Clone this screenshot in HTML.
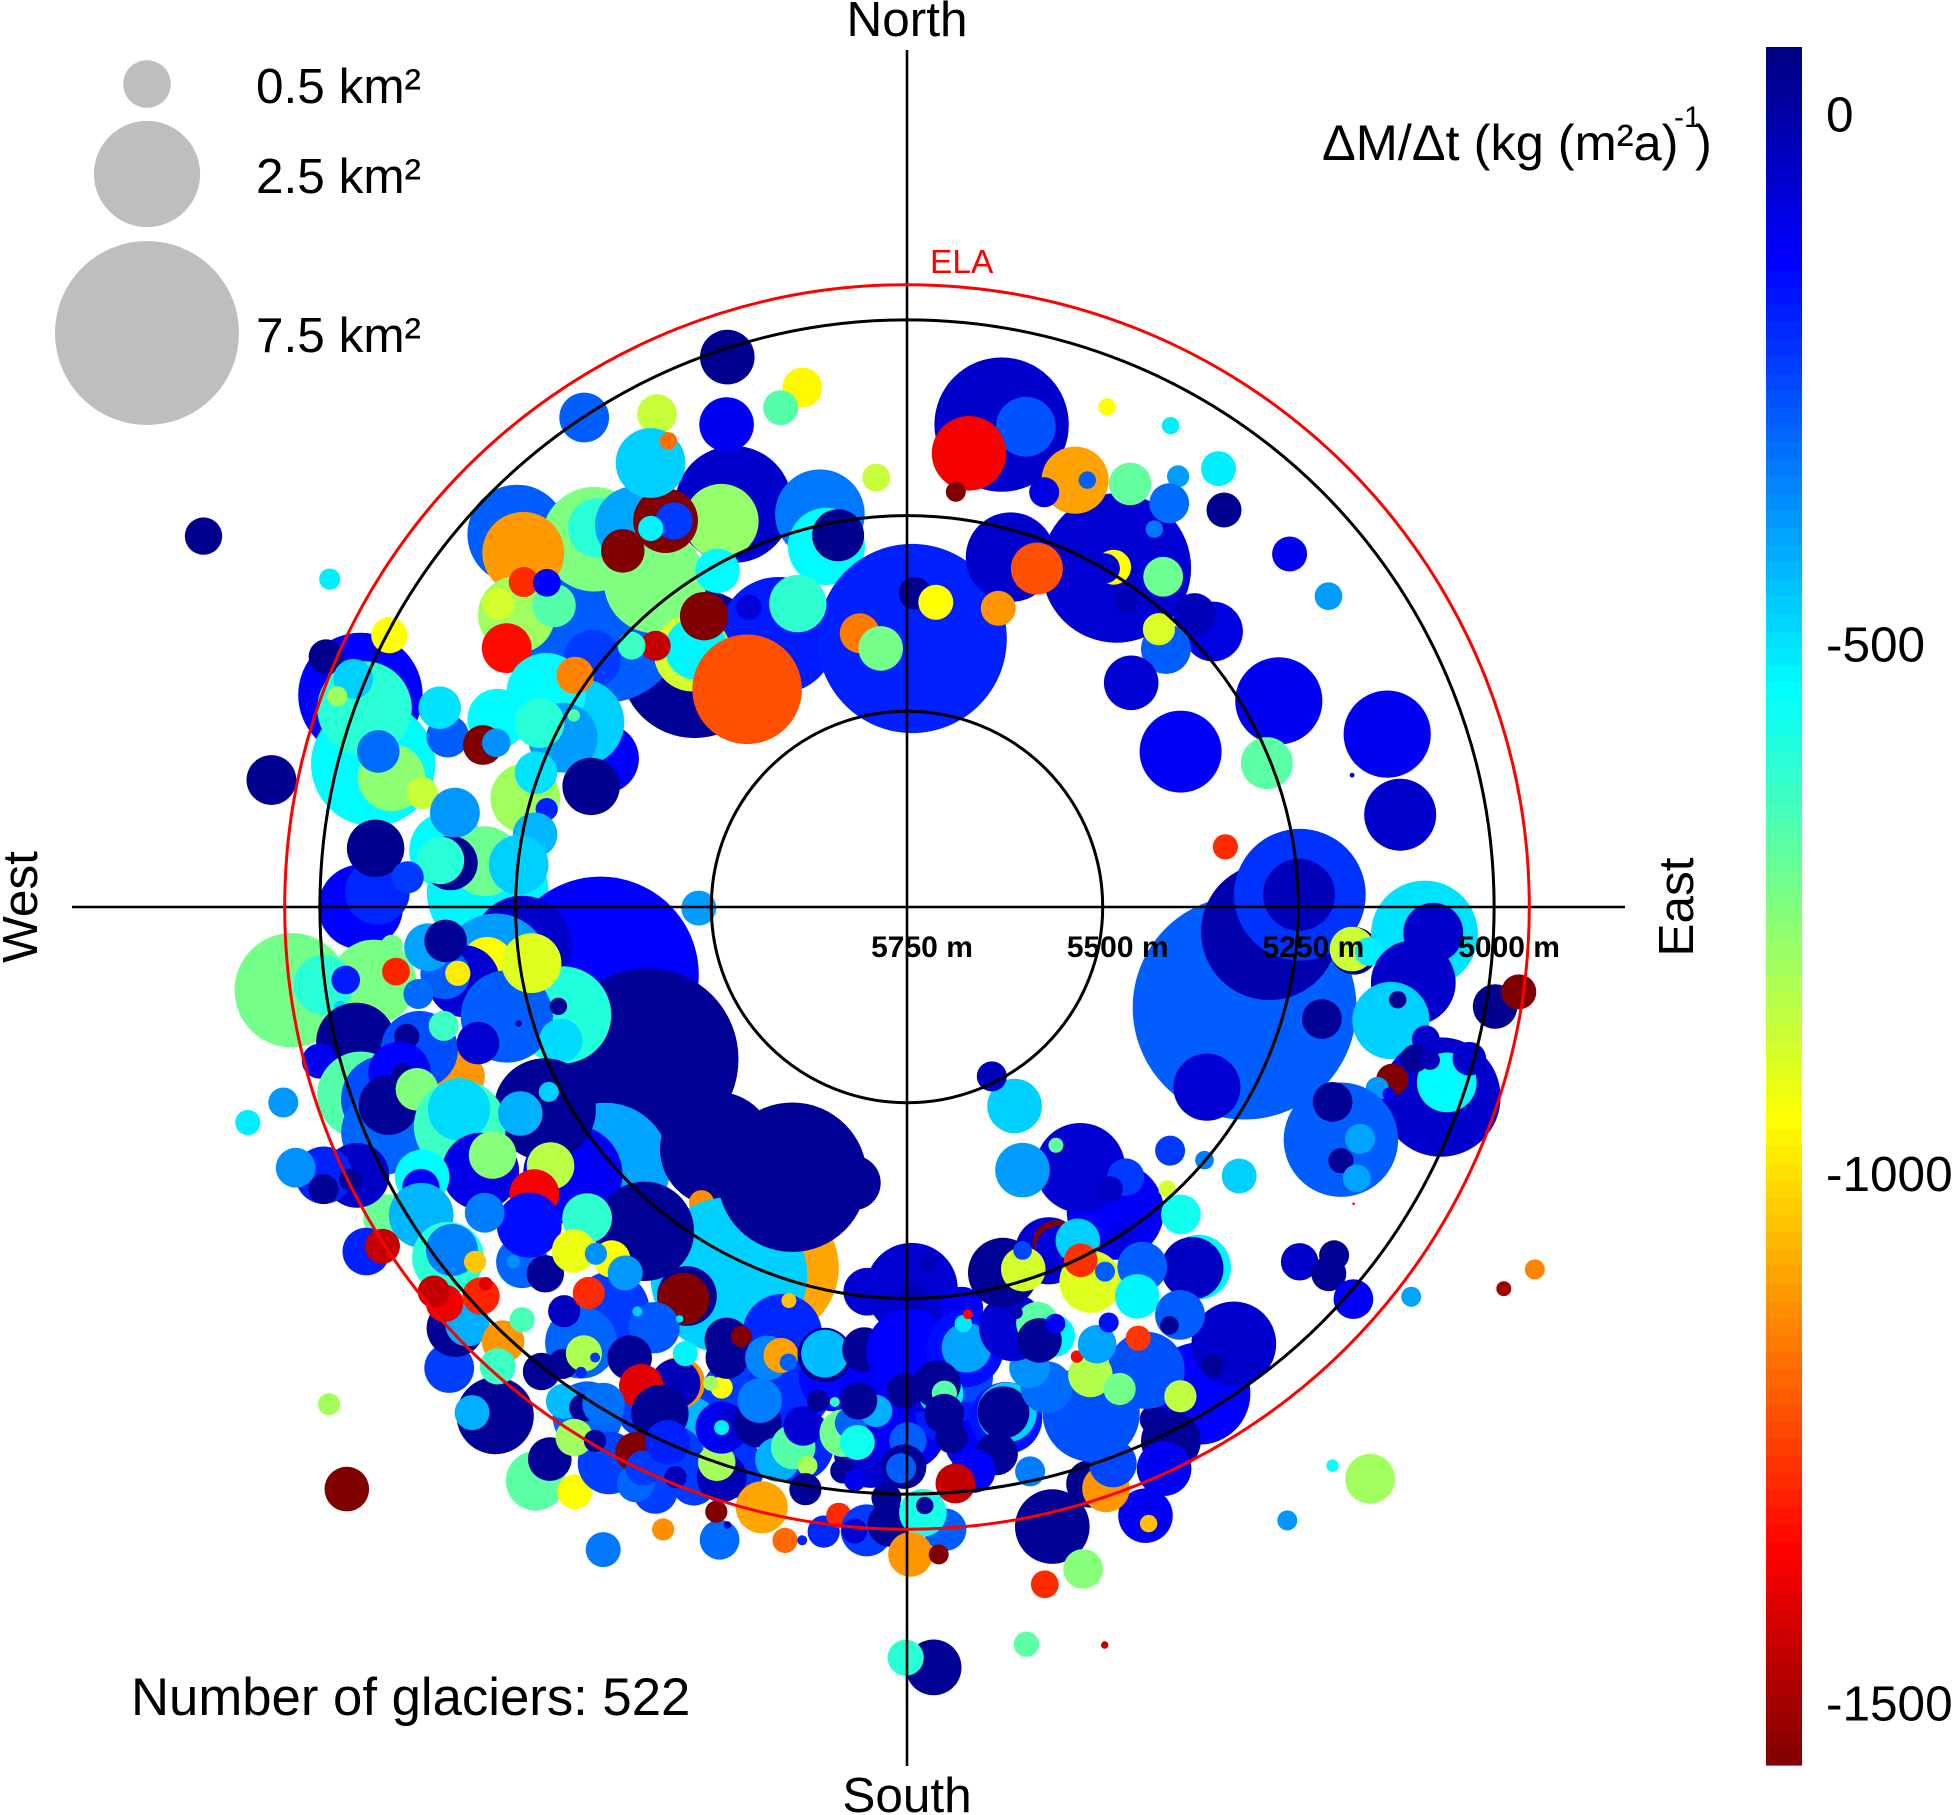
<!DOCTYPE html>
<html lang="en">
<head>
<meta charset="utf-8">
<title>Glacier mass balance by aspect and elevation</title>
<style>
html,body{margin:0;padding:0;background:#fff;width:1952px;height:1815px;overflow:hidden}
svg{display:block;position:absolute;left:0;top:0}
text{font-family:"Liberation Sans",sans-serif;fill:#000}
</style>
</head>
<body>
<svg id="chart" xmlns="http://www.w3.org/2000/svg" width="1952" height="1815" viewBox="0 0 1952 1815">
  <g id="glaciers"></g>
  <g id="grid">
    <line x1="72" y1="907" x2="1625" y2="907" stroke="#000" stroke-width="2.6"/>
    <line x1="907" y1="50" x2="907" y2="1766" stroke="#000" stroke-width="2.6"/>
  </g>
  <g id="ringLabels"></g>
  <text x="930" y="273" font-size="33.5" style="fill:#ff0000">ELA</text>
  <text x="907" y="36" font-size="49.5" text-anchor="middle">North</text>
  <text x="907" y="1812" font-size="49.5" text-anchor="middle">South</text>
  <text transform="translate(37 907) rotate(-90)" font-size="49.5" text-anchor="middle">West</text>
  <text transform="translate(1693 907) rotate(-90)" font-size="49.5" text-anchor="middle">East</text>
  <g id="sizeLegend"></g>
  <text x="131" y="1715" font-size="52.7">Number of glaciers: 522</text>
  <text x="1322" y="160" font-size="50.5">ΔM/Δt (kg (m²a)</text>
  <text x="1674" y="127" font-size="30">-1</text>
  <text x="1695" y="160" font-size="50.5">)</text>
  <g id="colorbar"></g>
</svg>
<script>
// Aspect of each glacier, degrees clockwise from north
const glacierAspect = [
318.9,334.6,313.3,336.7,313.7,319.6,312.7,320.8,324.4,322.2,
334.3,328,328.9,325.9,321.4,306.8,306.6,310.5,310.3,312,
302.9,308.3,319.8,320.8,330.6,325.1,316.1,313.5,323.7,332.2,
294.7,296.1,299.5,300.7,296.2,304.9,296.6,299.9,290.9,285.9,
289.9,285.2,341.9,326.6,333.1,339.5,348.6,345.8,330,332.9,
347.5,347.4,349.5,355.9,1.1,340.2,350.2,354.2,1.4,5.4,
291.2,293.3,285,290.1,292.4,290.3,284.1,286.4,297.7,281.3,
283.2,290.4,293.1,290.9,291.8,297.8,299.6,270,271.6,272,
277,276.2,275.5,275.7,281.8,281,276.2,276.3,273.4,269.7,
257.5,239.6,229.2,231.3,218.1,214.8,201.1,205.8,219,203,
191,185.9,264.3,262.3,262,262.4,262.6,260,265.7,262.8,
261.7,262.4,260.5,261.7,259.9,261.6,265.2,265.8,252.6,254.7,261.5,
248.9,254.1,253.3,240.8,249.2,256.2,253.7,252.4,255.6,255.5,
255.3,251,249.8,246.7,251.9,251.7,249.1,249.6,243.9,245.7,
241.9,242.7,238.2,239.1,234,232.4,240.9,240,242.3,239.1,
244,245.3,246.9,244.2,243.9,252.6,251.9,237.6,232.6,233,
227.3,229.9,234.1,225.8,228,230.6,237.5,237.1,219,220.7,
224.8,227,226.5,229.4,230.9,227.6,228.2,222.9,221.7,223,
198,193.7,188.9,191.6,183.8,179.9,184.2,202.7,203.1,197.1,174.9,173.3,207.5,178.4,
229.3,223.9,216.3,216.8,209.5,209.7,211,213.7,208.9,220.3,
219.5,224.6,224.1,220,221.9,217.6,218.2,217,211.6,215.9,
214.7,215,205.6,205.9,209,206.4,201.1,202.4,212.1,214.8,
212.9,211.4,206,212.9,212.9,209.6,205.3,201.4,196.5,196.2,
197.5,208.2,212.1,210.3,203.3,205.2,206.5,205.2,200.3,202.1,
204.1,198,198.9,193.6,190.9,189.4,187.6,186.4,183.7,184.8,
181.6,182,196.3,202.6,201.8,201.1,197.2,195.7,194.6,190.4,
190.4,185.5,199.6,198.6,199.6,196.1,196.6,193.2,191.9,190.1,
191.3,190.2,186.9,186.2,185.3,183.5,185.6,188.3,186.5,185.2,
189.9,196.7,179.3,176.6,179.1,172.2,179.8,172.6,172.5,172.3,
172.3,171.5,180.3,176,176.4,175.6,169,168.8,169.2,175.8,
175.2,170.7,173.3,167.7,175.2,179.9,180.3,180.6,176.5,178.5,
178.3,179.7,177.2,178,180.1,170.8,165,168.5,166.8,165.1,
158.6,158.6,149,153.7,154.2,155.4,162.4,161.1,159.7,143.2,
146.3,160,152.7,150.8,163.8,165.1,158.6,156.2,159.3,156.5,
154.1,151.8,165.9,162.6,161.1,163,160.4,164.9,145.6,146.9,
146.4,141,144.2,156.3,148,151.6,153.4,157.6,156.1,156.1,
153.9,152.9,153.8,151.5,165.3,162.2,161.4,141,141.7,146.8,
149.4,146.2,147.9,138.3,137.3,106.6,93.9,88.2,88.2,105.1,
121,95.6,95.4,93,95.5,98.5,92.8,103.2,100.7,109.6,
108,104.3,106.6,106.3,105.1,109.6,111.1,111.2,118.2,114.6,
117.1,120.3,121.1,99.6,97.9,132.8,130.4,129,120,122.6,
127.7,132.1,129.2,131,131.3,148.2,142.7,141,123.6,11.1,
13.9,7.8,6.7,31.7,21.5,22.9,18.3,21.8,28.7,27.8,
35.4,32.2,33,38.6,16.5,21,17,31.3,30.3,33.2,
35.7,37.8,48,44.5,45.1,42.2,45,60.4,47.3,53.6,
61,70.2,79.4,68.2,73.5,79.3
];
// Mean elevation of each glacier, metres
const glacierElevation = [
5337,5366,5217,5190,5061,5133,5083,5125,5150,5225,
5203,5168,5174,5166,5168,5127,5100,5157,5108,5131,
5141,5238,5325,5324,5257,5297,5287,5265,5405,5317,
5174,5319,5271,5214,5260,5233,5225,5259,5318,5243,
5246,5273,5011,5001,5044,5092,5073,5092,5095,5081,
5236,5278,5267,5200,5407,5338,5395,5418,5349,5359,
5001,4942,5044,5012,4985,4974,5071,5046,5003,4922,
5114,5124,5101,5170,5185,4734,4902,5052,5073,5214,
5159,5208,5164,5151,5160,5266,5251,5067,5111,5484,
5349,5366,5241,5203,5357,5290,5256,5227,5217,5375,
5391,5256,5256,4957,5062,4998,5027,5015,5090,5092,
5219,5209,5176,5154,5116,5170,5136,5159,5289,5220,5265,
5276,5287,5232,5220,5139,5025,5101,5175,5139,5090,
4974,5012,5039,5022,5068,5071,5041,5082,5114,5122,
5190,5235,5109,5133,5187,5149,5041,5033,4971,4976,
4968,4930,4901,4922,4958,4915,4864,5015,5012,5022,
5081,5119,5084,5180,5073,5036,4931,4952,4914,4898,
4920,4961,4976,4972,4971,5013,5028,4992,4964,5029,
5087,5117,5143,5049,5054,5079,5125,5034,4985,5000,5108,5058,5030,5143,
4776,4718,5111,5055,5179,5174,5123,5129,5149,5073,
5111,5092,5138,5163,5155,5160,4995,5019,5074,5046,
5050,5024,5076,5073,5050,5113,5092,5092,4982,4981,
4988,5006,5030,4877,4910,4891,4842,4896,4907,4928,
4940,4944,4950,4960,4937,4936,4972,4958,4965,4964,
5001,4984,5000,4961,4926,4930,4945,4968,4952,4950,
4961,4995,5182,5151,5130,5162,5147,5155,5149,5168,
5170,5182,5044,5054,5044,5063,5092,5025,5045,5025,
5074,5109,5073,5087,5063,5105,5116,5111,5025,5015,
4995,5225,5262,5294,5254,5233,5182,5144,5181,5182,
5213,5224,5132,5127,5139,5127,5085,5092,5093,5101,
5070,5042,5025,5012,5011,5068,5035,5033,4953,4976,
4985,4923,4922,4778,4791,4796,4774,4867,4937,4875,
4915,4904,5025,4989,5023,4961,4977,4965,4992,5053,
5046,5062,5084,5034,5111,5141,5108,5077,5136,5141,
5160,5125,5196,5193,5171,5171,5185,5213,5279,5244,
5350,5306,5306,5383,5391,5461,5508,5275,5279,5271,
5217,5271,5247,5220,5267,5264,5287,5158,5162,5201,
5172,5123,5119,5224,5260,5300,5286,5248,5249,5201,
5303,5176,5179,5088,5157,5096,5077,5115,5112,5026,
5025,5066,5073,5054,5006,5092,5106,5090,5121,5152,
5100,5108,5079,4988,4961,5292,5251,5204,4824,4845,
4936,5074,5046,5036,4991,4828,4853,4810,5065,5122,
5118,5165,5216,5241,5164,5158,5192,5062,5049,5139,
5063,5100,5135,5101,5284,5287,5351,5242,5249,5173,
5270,5216,5224,5226,5283,5271,5345,5348,5085,5081,
5207,5098,5109,5255,5157,5336
];
// Glacier area, km2
const glacierArea = [
4.94,3.03,5.98,3.03,2.19,2.42,1.49,.79,1.32,2.31,
1.23,.93,.31,.14,.42,1.32,.23,.42,.2,.17,
.55,.73,1.32,.86,.44,.52,.2,.17,2.66,.14,
.79,1.08,1.68,1.4,1.08,.31,.55,.034,.73,1.08,
.4,.11,.66,.55,.35,.66,.35,.27,1.08,.067,
1.78,1.32,.6,.17,7.92,.73,.35,.44,.23,.27,
3.43,.27,3.43,1.98,.35,.088,1,.4,.29,.55,
.23,.4,.4,.35,.18,.31,.1,1.59,.93,3.29,
1.32,1.08,.66,.5,.55,.44,.79,.73,.23,.27,
8.56,7.31,3.71,2.19,2.9,.14,4.46,5.44,2.19,4.94,
.66,.5,2.19,2.9,1.59,.79,.18,.034,.11,.17,
2.54,.6,1.15,.55,.2,.14,.5,.4,2.09,1.88,.79,
.42,.067,.009,2.31,.55,1.4,1.32,.4,.2,.14,
.27,1.68,1.68,1.59,.86,.11,.79,.4,1.88,.86,
.44,.088,1.32,.5,.5,.55,.66,.31,.31,.5,
.93,.73,.35,.2,.11,.2,.14,.93,1.15,.6,
.6,.93,.35,.55,.04,.11,.5,.27,1.32,.27,
.55,.73,.44,.31,.23,.31,.04,.4,.29,.14,
1.98,1.59,1.08,1.23,1.23,1.23,.93,.66,.93,.79,1.23,.55,.86,.79,
.11,.44,1.32,1.15,.79,.6,.58,.022,.012,.23,
.23,.31,.42,.31,.11,.27,.31,.2,.44,.29,
.022,.028,.6,.55,.44,.14,.11,.05,1.08,.27,
.17,.4,.73,.79,.42,.27,.27,.11,.35,.012,
.11,.86,.31,.11,.44,.31,.35,.27,.44,.11,
.44,.55,.31,.6,.14,.022,.23,.14,.6,.14,
.44,.2,1.4,.44,.4,.1,.44,.27,.067,.66,
.5,.44,.6,.27,.05,.5,.44,.44,.44,.088,
.35,.11,.5,.23,.27,.23,.31,.022,.14,.11,
.23,.05,1.88,.088,.17,.4,1.59,.55,1.32,.55,
.067,.022,.27,.44,.5,.14,1.15,.79,.6,.35,
.23,.4,.44,.2,.35,.31,.44,.2,.4,.5,
.067,.44,.088,.69,.29,.14,.012,.17,1.23,.35,
.66,.067,2.31,.79,.2,.66,.5,.5,.5,1.59,
.11,2.09,1.32,.23,.6,.37,.44,.23,.034,.33,
.088,.14,1,.4,.4,.44,.088,.034,2.09,.17,
1.78,.31,.14,.66,.05,.66,.2,1,.5,.5,
.86,.44,.25,.088,1.08,.44,.077,.93,.86,.55,
.44,.55,.077,.35,.067,11.1,4.15,3.85,1.15,.35,
1,.5,.44,2.54,.18,1.59,.79,1.32,.067,3.16,
.79,.17,.17,.088,.25,.23,.12,.034,2.9,.35,
.2,.14,.17,.44,.27,.2,.077,.27,.088,.05,
.088,.31,.2,.27,.35,.088,.034,.55,.0014,4,
.79,1.23,.088,4.94,1,.067,.2,.067,.067,.4,
.27,.11,.35,.27,1.78,.6,.27,.27,.2,.067,
.14,.35,.79,.4,.55,.23,.66,1.49,.27,.17,
1.68,1.68,1.15,.6,.005,.14
];
// Mass balance of each glacier, kg per m2 per year
const glacierBalance = [
30,-180,-290,-60,-290,-748,-1110,-610,-400,-748,
-780,-1559,-230,-530,-1559,-800,-880,-680,-1290,-140,
-1340,-230,-880,-530,-540,-1559,-1450,-640,-1230,-80,
-540,-140,-470,-540,-390,-1150,-610,-680,40,-800,
-500,-190,40,-290,-860,-120,-960,-680,-470,-1180,
-330,-540,40,-860,-190,-620,-1160,-730,40,-950,
-140,40,-540,-610,-470,-800,-770,-310,-950,40,
-860,-290,-500,-1559,-370,40,-520,-140,-200,-530,
-540,-720,40,-610,-380,-430,-470,40,-230,-390,
-140,30,-400,-130,30,-1130,-1090,-470,30,30,
30,-70,-60,-730,-740,-610,-180,-470,-730,-1300,
-390,-950,-70,-290,-310,-980,-400,30,-600,-290,-900,
-490,30,30,30,-1120,30,-260,-70,-640,30,
-120,-680,-260,-300,-140,30,30,-750,-640,-490,
-420,-470,-100,-760,-840,-1370,-540,-140,-930,-710,
-50,-190,-370,30,30,-380,-520,-430,-610,-340,
-300,-160,-340,-620,-370,-1040,-190,-1450,30,-420,
-240,30,-420,-1380,-1450,-1300,-1400,-1120,-640,-660,
-230,-210,-150,-200,-70,-130,-130,-430,-230,-220,-180,-130,-240,-100,
-810,-1559,-230,-300,30,-1559,-280,-470,-520,-40,
-1290,30,-920,-950,-370,-380,30,30,30,-820,
-230,-200,-1130,-30,-1400,-530,-950,-800,-300,-440,
30,-320,30,-690,30,-950,-330,-1130,-310,-30,
-1559,-240,-800,30,-240,-300,-1559,-230,-230,-30,
-190,-20,-810,-1090,-1190,-190,-200,-1290,-230,-70,
30,30,-200,30,30,-1559,-350,-1100,-290,30,
-440,30,-120,-70,-520,30,-340,-420,-680,-810,
-70,30,-730,-300,-570,-420,30,-620,30,-110,
30,-1050,-70,-30,-30,-130,-140,-250,-160,-400,
-510,-1350,30,-530,30,-680,-170,-470,30,30,
30,30,-140,-340,-1450,-290,30,-290,-290,-580,
30,-1120,-1559,30,-610,-690,-1450,-1290,30,-760,
-130,-1050,-140,30,30,-120,40,-1120,-250,-60,
30,-270,-270,-850,-310,-370,-830,-730,-1350,-400,
-160,-1270,-70,-690,-530,30,-130,-20,-130,-90,
-70,-230,-40,-390,-700,-470,-30,-70,-1559,-80,
-900,-470,-1280,-290,30,-880,-250,-530,-40,-290,
-530,-290,30,-570,-880,-290,-10,-220,-30,30,
-70,40,-870,-500,-520,-60,-60,-470,40,-60,
-540,-60,30,-30,-60,-1559,-380,-120,-290,30,
-400,30,-400,40,-1559,-230,-340,-470,-1150,-1500,
-400,-60,30,30,-130,-380,-560,-800,-1350,-60,
-270,-1370,-1559,-70,-1100,-290,-90,-950,-520,-700,
-520,-390,-310,40,-60,-1230,-1120,-950,-70,-330,
-30,-720,-90,-30,-290,-890,-70,-130,-120,-390,
-120,-120,-60,-690,-60,-1290
];
const ringElevations = [5500, 5250, 5000];
const ringLabelElevations = [5750, 5500, 5250, 5000];
const equilibriumLineAltitude = 4955;
const legendAreas = [0.5, 2.5, 7.5];
const legendLabels = ['0.5 km²', '2.5 km²', '7.5 km²'];
const colorbarTicks = [0, -500, -1000, -1500];
const colorbarDomain = [63, -1559];

const NS = 'http://www.w3.org/2000/svg';
const CENTER = 907, PX_PER_M = 195.7 / 250, TOP_ELEV = 5750, AREA_SCALE = 33.6;
const BAR_X = 1766, BAR_W = 36, BAR_Y = 47, BAR_H = 1718;

function radialScale(elev) { return (TOP_ELEV - elev) * PX_PER_M; }
function bubbleRadius(area) { return AREA_SCALE * Math.sqrt(area); }
function polarX(aspect, elev) { return CENTER + radialScale(elev) * Math.sin(aspect * Math.PI / 180); }
function polarY(aspect, elev) { return CENTER - radialScale(elev) * Math.cos(aspect * Math.PI / 180); }
function colorbarY(v) { return BAR_Y + (colorbarDomain[0] - v) / (colorbarDomain[0] - colorbarDomain[1]) * BAR_H; }
function clamp01(x) { return Math.max(0, Math.min(1, x)); }
function jet(v) {
  const t = clamp01((colorbarDomain[0] - v) / (colorbarDomain[0] - colorbarDomain[1]));
  const r = clamp01(Math.min(4 * t - 1.5, -4 * t + 4.5));
  const g = clamp01(Math.min(4 * t - 0.5, -4 * t + 3.5));
  const b = clamp01(Math.min(4 * t + 0.5, -4 * t + 2.5));
  return 'rgb(' + Math.round(r * 255) + ',' + Math.round(g * 255) + ',' + Math.round(b * 255) + ')';
}
function svgEl(tag) { return document.createElementNS(NS, tag); }

const glacierLayer = document.getElementById('glaciers');
glacierAspect.forEach(function (aspect, i) {
  const c = svgEl('circle');
  
  
  c.setAttribute('cx', polarX(aspect, glacierElevation[i]).toFixed(1));
  c.setAttribute('cy', polarY(aspect, glacierElevation[i]).toFixed(1));
  c.setAttribute('r', bubbleRadius(glacierArea[i]).toFixed(1));
  c.setAttribute('fill', jet(glacierBalance[i]));
  glacierLayer.appendChild(c);
});

const gridLayer = document.getElementById('grid');
ringElevations.forEach(function (elev) {
  const c = svgEl('circle');
  
  
  c.setAttribute('cx', CENTER);
  c.setAttribute('cy', CENTER);
  c.setAttribute('r', radialScale(elev).toFixed(1));
  c.setAttribute('fill', 'none');
  c.setAttribute('stroke', '#000');
  c.setAttribute('stroke-width', '3');
  gridLayer.appendChild(c);
});
const elaRing = svgEl('circle');


elaRing.setAttribute('cx', CENTER);
elaRing.setAttribute('cy', CENTER);
elaRing.setAttribute('r', radialScale(equilibriumLineAltitude).toFixed(1));
elaRing.setAttribute('fill', 'none');
elaRing.setAttribute('stroke', '#ff0000');
elaRing.setAttribute('stroke-width', '3');
gridLayer.appendChild(elaRing);

const ringLabelLayer = document.getElementById('ringLabels');
ringLabelElevations.forEach(function (elev) {
  const t = svgEl('text');
  
  
  t.setAttribute('x', (CENTER + radialScale(elev) + 15).toFixed(1));
  t.setAttribute('y', '957');
  t.setAttribute('font-size', '30');
  t.setAttribute('font-weight', 'bold');
  t.setAttribute('text-anchor', 'middle');
  t.textContent = elev + ' m';
  ringLabelLayer.appendChild(t);
});

const legendLayer = document.getElementById('sizeLegend');
const legendCenters = [84, 174, 333];
const legendBaselines = [103, 193, 352];
legendAreas.forEach(function (area, i) {
  const c = svgEl('circle');
  
  
  c.setAttribute('cx', '147');
  c.setAttribute('cy', legendCenters[i]);
  c.setAttribute('r', bubbleRadius(area).toFixed(1));
  c.setAttribute('fill', '#bebebe');
  legendLayer.appendChild(c);
  const t = svgEl('text');
  
  
  t.setAttribute('x', '256');
  t.setAttribute('y', legendBaselines[i]);
  t.setAttribute('font-size', '49.5');
  t.textContent = legendLabels[i];
  legendLayer.appendChild(t);
});

const barLayer = document.getElementById('colorbar');
const BANDS = 100;
for (let b = 0; b < BANDS; b++) {
  const v = colorbarDomain[0] + (colorbarDomain[1] - colorbarDomain[0]) * (b + 0.5) / BANDS;
  const r = svgEl('rect');
  
  
  r.setAttribute('x', BAR_X);
  r.setAttribute('y', (BAR_Y + b * BAR_H / BANDS).toFixed(2));
  r.setAttribute('width', BAR_W);
  r.setAttribute('height', (BAR_H / BANDS + 0.6).toFixed(2));
  r.setAttribute('fill', jet(v));
  barLayer.appendChild(r);
}
colorbarTicks.forEach(function (v) {
  const t = svgEl('text');
  
  
  t.setAttribute('x', '1826');
  t.setAttribute('y', (colorbarY(v) + 18).toFixed(1));
  t.setAttribute('font-size', '49.5');
  t.textContent = v;
  barLayer.appendChild(t);
});
</script>
</body>
</html>
